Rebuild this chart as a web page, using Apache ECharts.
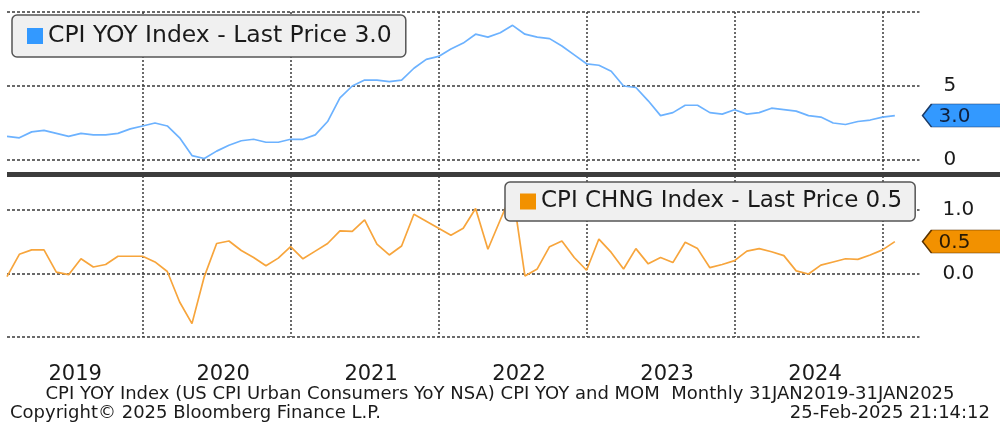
<!DOCTYPE html>
<html><head><meta charset="utf-8">
<script src="https://cdn.jsdelivr.net/npm/echarts@6/dist/echarts.min.js"></script>
<style>html,body{margin:0;padding:0;background:#fff}#c{width:1000px;height:430px}</style>
</head><body><div id="c"></div>
<script>
// Month categories: Jan 2019 .. Mar 2025 (last two are empty padding to the right edge)
const months = [];
for (let y = 2019; y <= 2025; y++) for (let m = 1; m <= 12; m++) {
  if (y === 2025 && m > 3) break;
  months.push(y + '-' + String(m).padStart(2, '0'));
}
const yearLabels = ['2019', '2020', '2021', '2022', '2023', '2024'];

// CPI YOY Index (%), monthly Jan 2019 .. Jan 2025
const yoy = [
  1.6, 1.5, 1.9, 2.0, 1.8, 1.6, 1.8, 1.7, 1.7, 1.8, 2.1, 2.3,
  2.5, 2.3, 1.5, 0.3, 0.1, 0.6, 1.0, 1.3, 1.4, 1.2, 1.2, 1.4,
  1.4, 1.7, 2.6, 4.2, 5.0, 5.4, 5.4, 5.3, 5.4, 6.2, 6.8, 7.0,
  7.5, 7.9, 8.5, 8.3, 8.6, 9.1, 8.5, 8.3, 8.2, 7.7, 7.1, 6.5,
  6.4, 6.0, 5.0, 4.9, 4.0, 3.0, 3.2, 3.7, 3.7, 3.2, 3.1, 3.4,
  3.1, 3.2, 3.5, 3.4, 3.3, 3.0, 2.9, 2.5, 2.4, 2.6, 2.7, 2.9,
  3.0
];
// CPI CHNG Index (% m/m), monthly Jan 2019 .. Jan 2025
const mom = [
  -0.05, 0.30, 0.37, 0.37, 0.02, -0.02, 0.23, 0.10, 0.14, 0.27, 0.27, 0.27,
  0.18, 0.03, -0.45, -0.79, -0.05, 0.47, 0.51, 0.36, 0.25, 0.12, 0.24, 0.42,
  0.23, 0.35, 0.47, 0.67, 0.66, 0.84, 0.46, 0.29, 0.43, 0.93, 0.82, 0.71,
  0.60, 0.71, 1.02, 0.38, 0.84, 1.29, -0.04, 0.07, 0.42, 0.51, 0.25, 0.05,
  0.54, 0.33, 0.07, 0.39, 0.15, 0.25, 0.17, 0.49, 0.39, 0.09, 0.14, 0.20,
  0.35, 0.39, 0.34, 0.28, 0.04, -0.01, 0.13, 0.18, 0.23, 0.22, 0.29, 0.37,
  0.50
];
const yoyLast = 3.0, momLast = 0.5;

const FONT = 'DejaVu Sans';
const TXT = '#1a1a1a';
const gridLine = { color: '#3a3a3a', type: [3, 2], width: 1.5 };
const badgePath = 'path://M0,11L9,0L80,0L80,22L9,22Z';

const chart = echarts.init(document.getElementById('c'), null, { renderer: 'canvas' });
chart.setOption({
  animation: false,
  backgroundColor: '#ffffff',
  textStyle: { fontFamily: FONT },
  title: [
    { text: 'CPI YOY Index (US CPI Urban Consumers YoY NSA) CPI YOY and MOM  Monthly 31JAN2019-31JAN2025',
      left: 'center', top: 385, padding: 0,
      textStyle: { fontSize: 18, fontWeight: 'normal', color: TXT, fontFamily: FONT } },
    { text: 'Copyright\u00A9 2025 Bloomberg Finance L.P.', left: 10, top: 404, padding: 0,
      textStyle: { fontSize: 18, fontWeight: 'normal', color: TXT, fontFamily: FONT } },
    { text: '25-Feb-2025 21:14:12', right: 10, top: 404, padding: 0,
      textStyle: { fontSize: 18, fontWeight: 'normal', color: TXT, fontFamily: FONT } }
  ],
  legend: [
    { data: ['CPI YOY Index'], left: 12, top: 15, icon: 'rect', itemWidth: 16, itemHeight: 16, itemGap: 0,
      padding: [9, 14, 9, 15], backgroundColor: '#f0f0f0', borderColor: '#555', borderWidth: 1.5, borderRadius: 5,
      selectedMode: false,
      formatter: n => n + ' - Last Price ' + yoyLast.toFixed(1),
      textStyle: { fontSize: 23.5, color: TXT, fontFamily: FONT } },
    { data: ['CPI CHNG Index'], left: 505, top: 182, icon: 'rect', itemWidth: 16, itemHeight: 16, itemGap: 0,
      padding: [8, 13, 8, 15], backgroundColor: '#f0f0f0', borderColor: '#555', borderWidth: 1.5, borderRadius: 5,
      selectedMode: false,
      formatter: n => n + ' - Last Price ' + momLast.toFixed(1),
      textStyle: { fontSize: 23, color: TXT, fontFamily: FONT } }
  ],
  grid: [
    { left: 7, right: 80.5, top: 12, bottom: 93 },
    { left: 7, right: 80.5, top: 12, height: 148 },
    { left: 7, right: 80.5, top: 178, bottom: 93 }
  ],
  xAxis: [
    { gridIndex: 0, type: 'category', data: months, boundaryGap: false,
      axisLine: { show: false }, axisTick: { show: false },
      axisLabel: {
        interval: (i) => i % 12 === 5 && i < 72, margin: 27,
        formatter: (v, i) => '{a|' + yearLabels[Math.floor(i / 12)] + '}',
        rich: { a: { padding: [0, 0, 0, 13], fontSize: 21, color: TXT, fontFamily: FONT } }
      },
      splitLine: { show: true, interval: (i) => i % 12 === 11, lineStyle: { color: '#3a3a3a', type: [2, 2], width: 1.5 } } },
    { gridIndex: 1, type: 'category', data: months, boundaryGap: false, show: false },
    { gridIndex: 2, type: 'category', data: months, boundaryGap: false, show: false }
  ],
  yAxis: [
    { gridIndex: 0, type: 'value', show: false, splitLine: { show: false } },
    { gridIndex: 1, type: 'value', position: 'right', min: 0, max: 10, interval: 5,
      axisLine: { show: false }, axisTick: { show: false },
      axisLabel: { showMaxLabel: false, margin: 24, fontSize: 20, color: TXT, fontFamily: FONT },
      splitLine: { lineStyle: gridLine } },
    { gridIndex: 2, type: 'value', position: 'right', min: -1, max: 1.5, interval: 1,
      axisLine: { show: false }, axisTick: { show: false },
      axisLabel: { showMaxLabel: false, showMinLabel: false, margin: 23, fontSize: 20, color: TXT, fontFamily: FONT,
                   formatter: v => v.toFixed(1) },
      splitLine: { showMaxLine: false, lineStyle: gridLine } }
  ],
  series: [
    { name: 'CPI YOY Index', type: 'line', xAxisIndex: 1, yAxisIndex: 1, data: yoy,
      symbol: 'none', lineStyle: { color: '#6cb2ff', width: 1.7 }, itemStyle: { color: '#3399ff' },
      markPoint: {
        symbol: badgePath, symbolSize: [80, 23], symbolKeepAspect: false, symbolOffset: [43, 0],
        itemStyle: { color: '#3399ff', borderColor: '#1d3b66', borderWidth: 1 },
        label: { show: true, position: 'inside', offset: [-8, 1], fontSize: 20, color: '#10213d', fontFamily: FONT,
                 formatter: p => Number(p.value).toFixed(1) },
        data: [{ coord: [months.length - 1, yoyLast], value: yoyLast }]
      } },
    { name: 'CPI CHNG Index', type: 'line', xAxisIndex: 2, yAxisIndex: 2, data: mom,
      symbol: 'none', lineStyle: { color: '#f7a53c', width: 1.7 }, itemStyle: { color: '#f29100' },
      markPoint: {
        symbol: badgePath, symbolSize: [80, 23], symbolKeepAspect: false, symbolOffset: [43, 0],
        itemStyle: { color: '#f29100', borderColor: '#5a3300', borderWidth: 1 },
        label: { show: true, position: 'inside', offset: [-8, 1], fontSize: 20, color: '#2a1a05', fontFamily: FONT,
                 formatter: p => Number(p.value).toFixed(1) },
        data: [{ coord: [months.length - 1, momLast], value: momLast }]
      } }
  ],
  graphic: [
    { type: 'rect', left: 7, top: 172, shape: { width: 993, height: 5 }, style: { fill: '#3c3c3c' }, z: 100 }
  ]
});
</script>
</body></html>
